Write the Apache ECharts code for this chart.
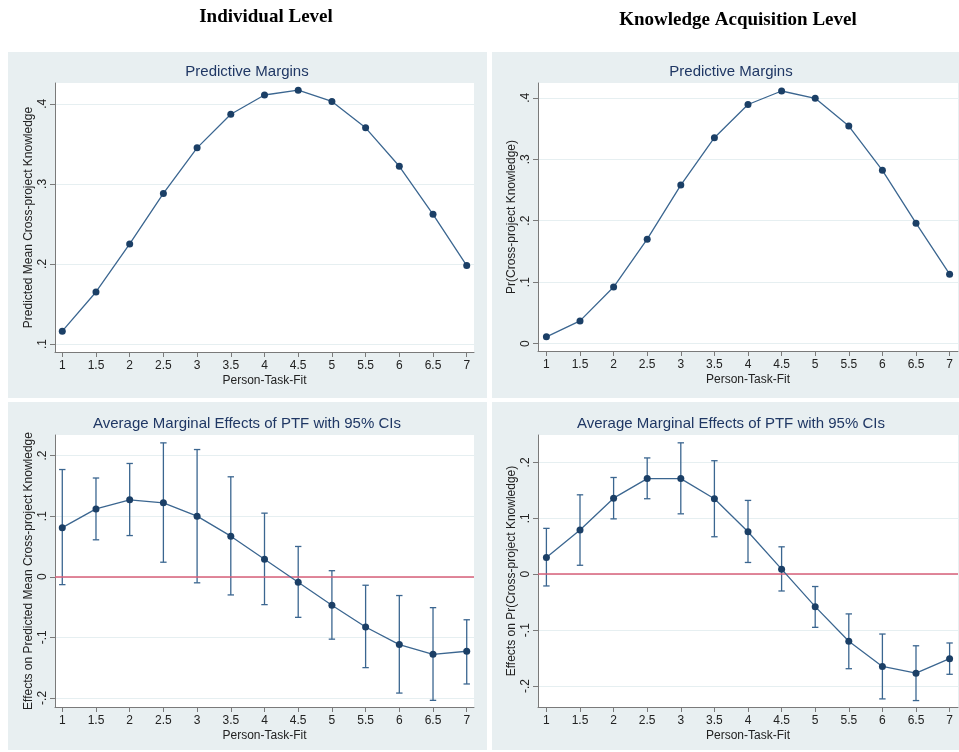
<!DOCTYPE html>
<html>
<head>
<meta charset="utf-8">
<script src="https://cdn.jsdelivr.net/npm/echarts@6/dist/echarts.min.js"></script>
<style>
  html, body { margin: 0; padding: 0; background: #ffffff; }
  #chart { width: 959px; height: 752px; }
</style>
</head>
<body>
<div id="chart"></div>
<script>
// ---------- DATA ----------
const ptf = [1, 1.5, 2, 2.5, 3, 3.5, 4, 4.5, 5, 5.5, 6, 6.5, 7];

// Individual level: predictive margins
const indMargins = [0.116, 0.165, 0.225, 0.288, 0.345, 0.387, 0.411, 0.417, 0.403, 0.370, 0.322, 0.262, 0.198];
// Knowledge acquisition level: predictive margins
const kaMargins = [0.011, 0.037, 0.092, 0.170, 0.258, 0.335, 0.389, 0.411, 0.399, 0.354, 0.282, 0.196, 0.113];

// Individual level: average marginal effects and 95% CIs
const indAME = [0.081, 0.112, 0.127, 0.122, 0.100, 0.067, 0.029, -0.009, -0.047, -0.083, -0.112, -0.128, -0.123];
const indLo  = [-0.013, 0.061, 0.068, 0.024, -0.010, -0.030, -0.046, -0.067, -0.103, -0.150, -0.192, -0.204, -0.177];
const indHi  = [0.177, 0.163, 0.187, 0.221, 0.210, 0.165, 0.105, 0.050, 0.010, -0.014, -0.031, -0.051, -0.071];

// Knowledge acquisition level: average marginal effects and 95% CIs
const kaAME = [0.030, 0.079, 0.136, 0.171, 0.171, 0.135, 0.076, 0.009, -0.058, -0.120, -0.165, -0.177, -0.151];
const kaLo  = [-0.021, 0.016, 0.099, 0.135, 0.108, 0.067, 0.021, -0.030, -0.095, -0.169, -0.223, -0.226, -0.179];
const kaHi  = [0.082, 0.142, 0.173, 0.208, 0.235, 0.203, 0.132, 0.049, -0.022, -0.071, -0.107, -0.128, -0.123];

// Tick labels
const xTicks = [1, 1.5, 2, 2.5, 3, 3.5, 4, 4.5, 5, 5.5, 6, 6.5, 7];
const yTicksIndMargins = [0.1, 0.2, 0.3, 0.4];
const yTicksKaMargins = [0, 0.1, 0.2, 0.3, 0.4];
const yTicksAME = [-0.2, -0.1, 0, 0.1, 0.2];

const headers = ['Individual Level', 'Knowledge Acquisition Level'];
const panelTitles = ['Predictive Margins', 'Average Marginal Effects of PTF with 95% CIs'];
const xName = 'Person-Task-Fit';
const yNames = ['Predicted Mean Cross-project Knowledge', 'Pr(Cross-project Knowledge)',
                'Effects on Predicted Mean Cross-project Knowledge', 'Effects on Pr(Cross-project Knowledge)'];

// ---------- STYLE ----------
const FONT = 'Liberation Sans, Arial, sans-serif';
const PANEL_BG = '#e8eff1';
const LINE_C = '#3b6690';
const MARK_C = '#1b3f66';
const TITLE_C = '#1f3764';
const AXIS_C = '#7a7a7a';
const GRID_C = '#e6eff1';
const ZERO_C = '#d95f78';

function stataNum(v) {
  const r = Math.round(v * 10) / 10;
  if (r === 0) return '0';
  let s = String(r);
  s = s.replace(/^0\./, '.').replace(/^-0\./, '-.');
  return s;
}

function xAxisCfg(gridIndex, min, max) {
  return {
    type: 'value', gridIndex, min, max,
    name: xName, nameLocation: 'middle', nameGap: 23,
    nameTextStyle: { fontFamily: FONT, fontSize: 12, color: '#222' },
    axisLine: { show: true, onZero: false, lineStyle: { color: AXIS_C, width: 1 } },
    axisTick: { show: true, length: 5, customValues: xTicks, lineStyle: { color: AXIS_C } },
    axisLabel: { customValues: xTicks, fontFamily: FONT, fontSize: 12, color: '#222', margin: 8,
                 formatter: v => String(v) },
    splitLine: { show: false }
  };
}
function yAxisCfg(gridIndex, min, max, ticks, name) {
  return {
    type: 'value', gridIndex, min, max,
    name, nameLocation: 'middle', nameGap: 20,
    nameTextStyle: { fontFamily: FONT, fontSize: 12, color: '#222' },
    axisLine: { show: true, onZero: false, lineStyle: { color: AXIS_C, width: 1 } },
    axisTick: { show: true, length: 5, customValues: ticks, lineStyle: { color: AXIS_C } },
    axisLabel: { customValues: ticks, rotate: 90, fontFamily: FONT, fontSize: 12, color: '#222', margin: 6,
                 formatter: v => stataNum(v) },
    splitLine: { show: true, lineStyle: { color: GRID_C, width: 1 } }
  };
}

function lineSeries(xi, yi, vals) {
  return {
    type: 'line', xAxisIndex: xi, yAxisIndex: yi,
    data: ptf.map((x, i) => [x, vals[i]]),
    symbol: 'circle', symbolSize: 7,
    itemStyle: { color: MARK_C },
    lineStyle: { color: LINE_C, width: 1.3 },
    z: 5, animation: false
  };
}
function errSeries(xi, yi, lo, hi) {
  return {
    type: 'custom', xAxisIndex: xi, yAxisIndex: yi,
    data: ptf.map((x, i) => [x, lo[i], hi[i]]),
    encode: { x: 0, y: [1, 2] },
    z: 3, animation: false, silent: true,
    renderItem: function (params, api) {
      const x = api.value(0);
      const pLo = api.coord([x, api.value(1)]);
      const pHi = api.coord([x, api.value(2)]);
      const w = 3.2;
      const st = { stroke: LINE_C, lineWidth: 1.3 };
      return {
        type: 'group',
        children: [
          { type: 'line', shape: { x1: pLo[0], y1: pLo[1], x2: pHi[0], y2: pHi[1] }, style: st },
          { type: 'line', shape: { x1: pLo[0] - w, y1: pLo[1], x2: pLo[0] + w, y2: pLo[1] }, style: st },
          { type: 'line', shape: { x1: pHi[0] - w, y1: pHi[1], x2: pHi[0] + w, y2: pHi[1] }, style: st }
        ]
      };
    }
  };
}
function zeroSeries(xi, yi) {
  return {
    type: 'line', xAxisIndex: xi, yAxisIndex: yi, data: [],
    z: 2, animation: false,
    markLine: {
      silent: true, symbol: 'none', label: { show: false },
      lineStyle: { color: ZERO_C, width: 1.5, type: 'solid' },
      data: [{ yAxis: 0 }]
    }
  };
}

const gridBase = { show: true, backgroundColor: '#ffffff', borderWidth: 0, containLabel: false };
const HEAD_FONT = 'bold 19px "Liberation Serif", "Times New Roman", serif';
const TITLE_FONT = '15px ' + FONT;

const option = {
  backgroundColor: '#ffffff',
  animation: false,
  graphic: [
    { type: 'rect', shape: { x: 8, y: 52, width: 479, height: 346 }, style: { fill: PANEL_BG }, z: -10 },
    { type: 'rect', shape: { x: 492, y: 52, width: 467, height: 346 }, style: { fill: PANEL_BG }, z: -10 },
    { type: 'rect', shape: { x: 8, y: 402, width: 479, height: 348 }, style: { fill: PANEL_BG }, z: -10 },
    { type: 'rect', shape: { x: 492, y: 402, width: 467, height: 348 }, style: { fill: PANEL_BG }, z: -10 },
    { type: 'text', x: 266, y: 17, style: { text: headers[0], font: HEAD_FONT, fill: '#000', align: 'center', verticalAlign: 'middle' } },
    { type: 'text', x: 738, y: 20, style: { text: headers[1], font: HEAD_FONT, fill: '#000', align: 'center', verticalAlign: 'middle' } },
    { type: 'text', x: 247, y: 72, style: { text: panelTitles[0], font: TITLE_FONT, fill: TITLE_C, align: 'center', verticalAlign: 'middle' } },
    { type: 'text', x: 731, y: 72, style: { text: panelTitles[0], font: TITLE_FONT, fill: TITLE_C, align: 'center', verticalAlign: 'middle' } },
    { type: 'text', x: 247, y: 424, style: { text: panelTitles[1], font: TITLE_FONT, fill: TITLE_C, align: 'center', verticalAlign: 'middle' } },
    { type: 'text', x: 731, y: 424, style: { text: panelTitles[1], font: TITLE_FONT, fill: TITLE_C, align: 'center', verticalAlign: 'middle' } }
  ],
  grid: [
    Object.assign({ left: 55, top: 83, width: 419, height: 269 }, gridBase),
    Object.assign({ left: 538, top: 83, width: 420, height: 268 }, gridBase),
    Object.assign({ left: 55, top: 435, width: 419, height: 272 }, gridBase),
    Object.assign({ left: 538, top: 435, width: 420, height: 272 }, gridBase)
  ],
  xAxis: [
    xAxisCfg(0, 0.892, 7.108),
    xAxisCfg(1, 0.875, 7.125),
    xAxisCfg(2, 0.892, 7.108),
    xAxisCfg(3, 0.875, 7.125)
  ],
  yAxis: [
    yAxisCfg(0, 0.09, 0.426, yTicksIndMargins, yNames[0]),
    yAxisCfg(1, -0.012, 0.424, yTicksKaMargins, yNames[1]),
    yAxisCfg(2, -0.215, 0.234, yTicksAME, yNames[2]),
    yAxisCfg(3, -0.2375, 0.249, yTicksAME, yNames[3])
  ],
  series: [
    lineSeries(0, 0, indMargins),
    lineSeries(1, 1, kaMargins),
    zeroSeries(2, 2),
    errSeries(2, 2, indLo, indHi),
    lineSeries(2, 2, indAME),
    zeroSeries(3, 3),
    errSeries(3, 3, kaLo, kaHi),
    lineSeries(3, 3, kaAME)
  ]
};

const chart = echarts.init(document.getElementById('chart'), null, { renderer: 'canvas' });
chart.setOption(option);
</script>
</body>
</html>
